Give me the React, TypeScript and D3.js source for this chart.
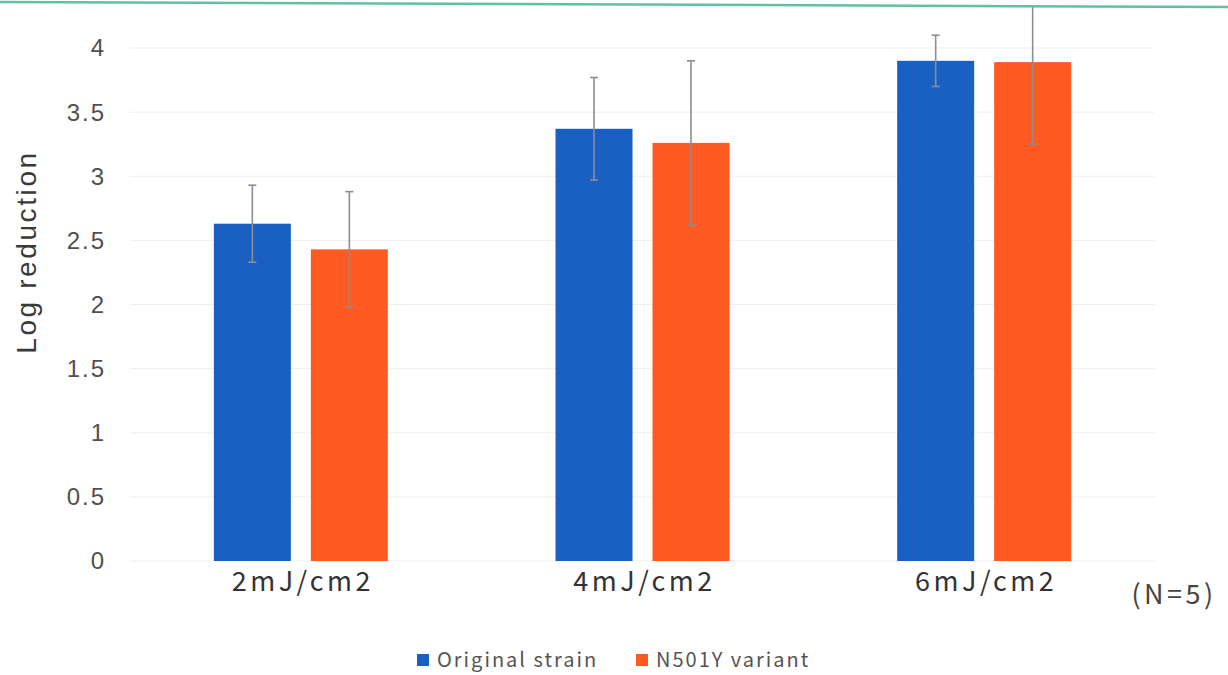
import React, { useEffect } from "react";
import * as d3 from "d3";

const categories = ["2mJ/cm2", "4mJ/cm2", "6mJ/cm2"];
const series = ["Original strain", "N501Y variant"];
const originalValues = [2.63, 3.37, 3.9];
const originalErrors = [0.3, 0.4, 0.2];
const variantValues = [2.43, 3.26, 3.89];
const variantErrors = [0.45, 0.64, 0.64];
const yTicks = [0, 0.5, 1, 1.5, 2, 2.5, 3, 3.5, 4];
const colors = ["#1a60c2", "#ff5a22"];

const W = 1228;
const H = 675;

export default function App() {
  useEffect(() => {
    document.body.style.margin = "0";
  }, []);

  const x0 = d3.scaleBand<string>().domain(categories).range([130, 1155]).padding(0);
  const groupW = 174;
  const x1 = d3.scaleBand<string>().domain(series).range([0, groupW]).paddingInner(0.206).paddingOuter(0);
  const y = d3.scaleLinear().domain([0, 4]).range([561, 48]);

  const rows = categories.map((c, i) => [
    { c, s: series[0], v: originalValues[i], e: originalErrors[i] },
    { c, s: series[1], v: variantValues[i], e: variantErrors[i] },
  ]);

  const tickFont = "'Liberation Sans', Arial, sans-serif";
  const jpFont = "'Noto Sans CJK JP', 'Noto Sans', sans-serif";

  return (
    <svg width={W} height={H} style={{ position: "absolute", left: 0, top: 0, background: "#fff" }}>
      <defs>
        <clipPath id="plotclip">
          <rect x={0} y={6} width={W} height={H} />
        </clipPath>
      </defs>

      {/* gridlines */}
      {yTicks.map((t) => (
        <line key={t} x1={130} x2={1155} y1={y(t)} y2={y(t)} stroke="#efefef" strokeWidth={1} />
      ))}

      {/* y tick labels */}
      {yTicks.map((t) => (
        <text
          key={"t" + t}
          x={106}
          y={y(t)}
          dy="0.35em"
          textAnchor="end"
          fontFamily={tickFont}
          fontSize={24}
          letterSpacing={2}
          fill="#505050"
        >
          {t}
        </text>
      ))}

      <text
        transform={`translate(36,252) rotate(-90)`}
        textAnchor="middle"
        fontFamily={tickFont}
        fontSize={28}
        letterSpacing={2.6}
        fill="#3a3a3a"
      >
        Log reduction
      </text>

      {/* bars */}
      <g clipPath="url(#plotclip)">
        {rows.map((grp) => {
          const gx = (x0(grp[0].c) || 0) + (x0.bandwidth() - groupW) / 2;
          return grp.map((d, j) => {
            const bx = gx + (x1(d.s) || 0);
            const cx = bx + x1.bandwidth() / 2;
            return (
              <g key={d.c + d.s}>
                <rect x={bx} y={y(d.v)} width={x1.bandwidth()} height={y(0) - y(d.v)} fill={colors[j]} />
                <line x1={cx} x2={cx} y1={y(d.v + d.e)} y2={y(d.v - d.e)} stroke="#8c8c98" strokeWidth={1.6} />
                <line x1={cx - 4} x2={cx + 4} y1={y(d.v + d.e)} y2={y(d.v + d.e)} stroke="#8c8c98" strokeWidth={1.6} />
                <line x1={cx - 4} x2={cx + 4} y1={y(d.v - d.e)} y2={y(d.v - d.e)} stroke="#8c8c98" strokeWidth={1.6} />
              </g>
            );
          });
        })}
      </g>

      {/* category labels */}
      {categories.map((c) => (
        <text
          key={c}
          x={(x0(c) || 0) + x0.bandwidth() / 2 + 2}
          y={591}
          textAnchor="middle"
          fontFamily={jpFont}
          fontSize={27}
          letterSpacing={3.5}
          fill="#333"
        >
          {c}
        </text>
      ))}

      <text x={1174} y={604} textAnchor="middle" fontFamily={jpFont} fontSize={27} letterSpacing={3.5} fill="#444">
        (N=5)
      </text>

      {/* legend */}
      {series.map((s, i) => {
        const lx = i === 0 ? 417 : 636;
        return (
          <g key={s}>
            <rect x={lx} y={654} width={12} height={12} fill={colors[i]} />
            <text x={lx + 20} y={660} dy="0.36em" fontFamily={jpFont} fontSize={20} letterSpacing={2} fill="#555">
              {s}
            </text>
          </g>
        );
      })}

      {/* scan border line */}
      <line x1={0} y1={2} x2={W} y2={7} stroke="#5fc29c" strokeWidth={2.5} />
    </svg>
  );
}
